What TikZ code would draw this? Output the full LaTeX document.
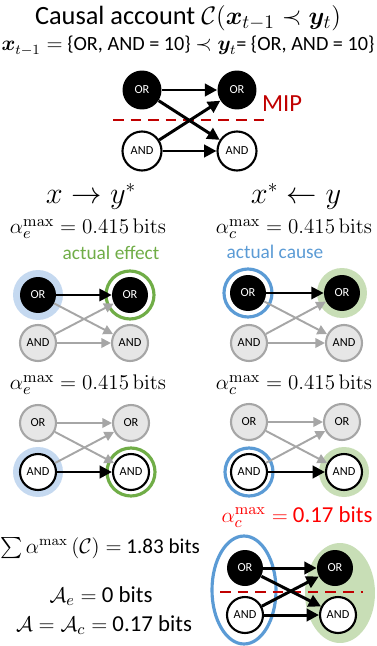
\documentclass[tikz,border=0pt]{standalone}
\usepackage{amsmath,amssymb,bm}
\usepackage[no-math]{fontspec}
\setmainfont{Carlito}
\usepackage{tikz}
\usetikzlibrary{arrows.meta,positioning,shapes.geometric}

\definecolor{mipred}{RGB}{192,0,0}
\definecolor{effgreen}{RGB}{112,173,71}
\definecolor{caublue}{RGB}{91,155,213}
\definecolor{haloblue}{RGB}{197,217,240}
\definecolor{halogreen}{RGB}{200,222,182}
\definecolor{fadeline}{RGB}{166,166,166}
\definecolor{fadefill}{RGB}{230,230,230}

\begin{document}
\begin{tikzpicture}[x=0.02cm, y=-0.02cm,
    on/.style={circle, fill=black, text=white, minimum size=0.72cm, inner sep=0pt, font=\fontsize{7}{8}\selectfont},
    off/.style={circle, draw, fill=white, line width=1.2pt, minimum size=0.72cm, inner sep=0pt, font=\fontsize{7}{8}\selectfont},
    faded/.style={circle, draw=fadeline, fill=fadefill, line width=1.2pt, minimum size=0.72cm, inner sep=0pt, font=\fontsize{7}{8}\selectfont},
    big/.style={minimum size=0.78cm},
    halo/.style={circle, minimum size=1.0cm, inner sep=0pt},
    ring/.style={circle, draw, line width=1.8pt, minimum size=0.96cm, inner sep=0pt},
    label/.style={inner sep=1pt},
    line/.style={draw, line width=1.7pt, -{Triangle[length=7pt,width=7pt]}},
    dim/.style={draw=fadeline, line width=1.1pt, -{Triangle[length=5.5pt,width=5.5pt]}},
    cut/.style={draw=mipred, line width=1.6pt, dash pattern=on 6pt off 4pt}]

    \useasboundingbox (0,0) rectangle (376,646);

    % heading
    \node [label, font=\fontsize{15}{18}\selectfont] (title) at (188,18) {Causal account $\mathcal{C}(\bm{x}_{t-1} \prec \bm{y}_t)$};
    \node [label, font=\fontsize{11.5}{13}\selectfont] (state) at (188,46) {$\bm{x}_{t-1} =$ \{OR, AND = 10\} $\prec \bm{y}_t$= \{OR, AND = 10\}};

    % full network with MIP
    \node [on, big] (xor0) at (142,90) {OR};
    \node [on, big] (yor0) at (237,90) {OR};
    \node [off, big] (xand0) at (142,151) {AND};
    \node [off, big] (yand0) at (237,151) {AND};
    \coordinate (mipl) at (113,120);
    \coordinate (mipr) at (268,120);
    \draw [cut] (mipl) -- (mipr);
    \node [label, text=mipred, font=\fontsize{14}{16}\selectfont] (mip) at (282,104) {MIP};
    \draw [line] (xor0) -- (yor0);
    \draw [line] (xor0) -- (yand0);
    \draw [line] (xand0) -- (yor0);
    \draw [line] (xand0) -- (yand0);

    % column heads
    \node [label, font=\fontsize{16}{18}\selectfont] (efhead) at (91,196) {$x \rightarrow y^*$};
    \node [label, font=\fontsize{16}{18}\selectfont] (cahead) at (296,196) {$x^* \leftarrow y$};
    \node [label, font=\fontsize{13}{15}\selectfont] (ae1) at (88,229) {$\alpha_e^{\mathrm{max}} = 0.415\,\mathrm{bits}$};
    \node [label, font=\fontsize{13}{15}\selectfont] (ac1) at (294,229) {$\alpha_c^{\mathrm{max}} = 0.415\,\mathrm{bits}$};
    \node [label, text=effgreen, font=\fontsize{11}{13}\selectfont] (eflab) at (111,253) {actual effect};
    \node [label, text=caublue, font=\fontsize{11}{13}\selectfont] (calab) at (275,252) {actual cause};

    % effect, OR
    \node [halo, fill=haloblue] at (38,295) {};
    \node [ring, draw=effgreen] at (130,295) {};
    \node [on] (xor1) at (38,295) {OR};
    \node [on] (yor1) at (130,295) {OR};
    \node [faded] (xand1) at (38,343) {AND};
    \node [faded] (yand1) at (130,343) {AND};
    \draw [dim] (xor1) -- (yand1);
    \draw [dim] (xand1) -- (yor1);
    \draw [dim] (xand1) -- (yand1);
    \draw [line, line width=1.3pt] (xor1) -- (yor1);

    % cause, OR
    \node [ring, draw=caublue] at (248,293) {};
    \node [halo, fill=halogreen] at (342,293) {};
    \node [on] (xor2) at (248,293) {OR};
    \node [on] (yor2) at (342,293) {OR};
    \node [faded] (xand2) at (249,343) {AND};
    \node [faded] (yand2) at (344,343) {AND};
    \draw [dim] (xor2) -- (yand2);
    \draw [dim] (xand2) -- (yor2);
    \draw [dim] (xand2) -- (yand2);
    \draw [line, line width=1.3pt] (xor2) -- (yor2);

    \node [label, font=\fontsize{13}{15}\selectfont] (ae2) at (88,385) {$\alpha_e^{\mathrm{max}} = 0.415\,\mathrm{bits}$};
    \node [label, font=\fontsize{13}{15}\selectfont] (ac2) at (294,385) {$\alpha_c^{\mathrm{max}} = 0.415\,\mathrm{bits}$};

    % effect, AND
    \node [halo, fill=haloblue] at (38,472) {};
    \node [ring, draw=effgreen] at (131,472) {};
    \node [faded] (xor3) at (38,423) {OR};
    \node [faded] (yor3) at (131,423) {OR};
    \node [off] (xand3) at (38,472) {AND};
    \node [off] (yand3) at (131,472) {AND};
    \draw [dim] (xor3) -- (yor3);
    \draw [dim] (xor3) -- (yand3);
    \draw [dim] (xand3) -- (yor3);
    \draw [line] (xand3) -- (yand3);

    % cause, AND
    \node [ring, draw=caublue] at (249,472) {};
    \node [halo, fill=halogreen] at (344,472) {};
    \node [faded] (xor4) at (249,422) {OR};
    \node [faded] (yor4) at (342,422) {OR};
    \node [off] (xand4) at (249,472) {AND};
    \node [off] (yand4) at (344,472) {AND};
    \draw [dim] (xor4) -- (yor4);
    \draw [dim] (xor4) -- (yand4);
    \draw [dim] (xand4) -- (yor4);
    \draw [line] (xand4) -- (yand4);

    % summary
    \node [label, text=red, font=\fontsize{13}{15}\selectfont] (acmax) at (297,517) {$\alpha_c^{\mathrm{max}} =$ 0.17 bits};
    \node [label, font=\fontsize{12}{14}\selectfont] (sum) at (100,548) {$\sum \alpha^{\mathrm{max}}\,(\mathcal{C}) =$ 1.83 bits};
    \node [label, font=\fontsize{13}{15}\selectfont] (Ae) at (101,596) {$\mathcal{A}_e =$ 0 bits};
    \node [label, font=\fontsize{13}{15}\selectfont] (A) at (104,625) {$\mathcal{A} = \mathcal{A}_c =$ 0.17 bits};

    % irreducible cause
    \node [ellipse, fill=halogreen, minimum width=1.4cm, minimum height=2.0cm] (yset) at (340,593) {};
    \node [ellipse, draw=caublue, line width=1.8pt, minimum width=1.28cm, minimum height=2.16cm] (xset) at (244,590) {};
    \coordinate (cutl) at (220,592);
    \coordinate (cutr) at (363,592);
    \draw [cut] (cutl) -- (cutr);
    \node [on] (xor5) at (245,568) {OR};
    \node [on] (yor5) at (335,568) {OR};
    \node [off] (xand5) at (245,615) {AND};
    \node [off] (yand5) at (338,615) {AND};
    \draw [line] (xor5) -- (yor5);
    \draw [line] (xor5) -- (yand5);
    \draw [line] (xand5) -- (yor5);
    \draw [line] (xand5) -- (yand5);
\end{tikzpicture}
\end{document}
